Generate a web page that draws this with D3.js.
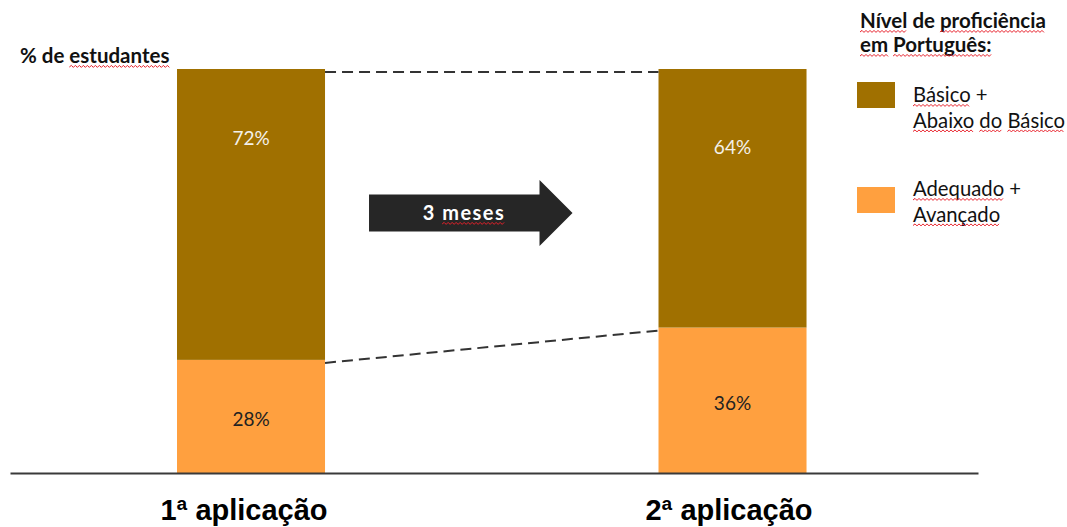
<!DOCTYPE html>
<html>
<head>
<meta charset="utf-8">
<script src="https://cdn.jsdelivr.net/npm/d3@7"></script>
<style>
  html, body { margin: 0; padding: 0; background: #fff; }
  svg { display: block; }
</style>
</head>
<body>
<svg id="chart" width="1067" height="527"></svg>
<script>
// Proficiency levels before and after three months
const applications = ["1ª aplicação", "2ª aplicação"];
const lowerLevel = [72, 64];     // Básico + Abaixo do Básico
const upperLevel = [28, 36];     // Adequado + Avançado
const seriesNames = [["Básico +", "Abaixo do Básico"], ["Adequado +", "Avançado"]];
const percentSign = "%";
const colors = { lower: "#A07000", upper: "#FFA03F" };

const svg = d3.select("#chart");
const calibri = "Lato, 'Open Sans', sans-serif";
const arial = "'Liberation Sans', Arial, sans-serif";

const x = d3.scaleBand().domain(applications).range([10, 978])
  .paddingInner(0.6926).paddingOuter(0.3515).align(0.4934);
const y = d3.scaleLinear().domain([0, 100]).range([473, 69]);

const data = applications.map((a, i) => ({ app: a, upper: upperLevel[i], lower: lowerLevel[i] }));
const stack = d3.stack().keys(["upper", "lower"])(data);

// stacked bars
svg.append("g").selectAll("g").data(stack).join("g")
  .attr("fill", d => colors[d.key])
  .selectAll("rect").data(d => d).join("rect")
  .attr("x", d => x(d.data.app))
  .attr("width", x.bandwidth())
  .attr("y", d => y(d[1]))
  .attr("height", d => y(d[0]) - y(d[1]));

// connecting dashed lines
const dash = svg.append("g").attr("stroke", "#333").attr("stroke-width", 2)
  .attr("stroke-dasharray", "11,6").attr("fill", "none");
const xr = x(applications[0]) + x.bandwidth();
const xl = x(applications[1]);
dash.append("line").attr("x1", xr).attr("x2", xl).attr("y1", y(100) + 3).attr("y2", y(100) + 3);
dash.append("line").attr("x1", xr).attr("x2", xl)
  .attr("y1", y(upperLevel[0]) + 3).attr("y2", y(upperLevel[1]) + 3);

// value labels
const lowerLabelAt = [82.8, 80.6];
svg.append("g").selectAll("text").data(data).join("text")
  .attr("x", d => x(d.app) + x.bandwidth() / 2)
  .attr("y", (d, i) => y(lowerLabelAt[i]) + 7)
  .attr("text-anchor", "middle").attr("font-family", calibri).attr("font-size", 19)
  .attr("fill", "#F4F1EA")
  .text(d => d.lower + percentSign);
svg.append("g").selectAll("text").data(data).join("text")
  .attr("x", d => x(d.app) + x.bandwidth() / 2)
  .attr("y", d => y(d.upper / 2) + 10)
  .attr("text-anchor", "middle").attr("font-family", calibri).attr("font-size", 19)
  .attr("fill", "#222")
  .text(d => d.upper + percentSign);

// baseline axis with category labels
const axis = svg.append("g").attr("transform", `translate(0,${y(0)})`)
  .call(d3.axisBottom(x).tickSize(0).tickPadding(40));
axis.select(".domain").attr("stroke", "#3a3a3a").attr("stroke-width", 2.2);
axis.selectAll(".tick text")
  .attr("font-family", arial).attr("font-size", 29).attr("font-weight", "bold")
  .attr("fill", "#000").attr("dy", "0.25em")
  .attr("dx", (d, i) => i === 0 ? -7 : -3.5);

// spell-check style wavy underline below a word range of a text element
function squiggle(textSel, words) {
  const node = textSel.node();
  const str = node.textContent;
  const base = +textSel.attr("y");
  words.forEach(w => {
    const i = str.indexOf(w);
    if (i < 0) return;
    const x0 = node.getStartPositionOfChar(i).x;
    const x1 = node.getEndPositionOfChar(i + w.length - 1).x;
    const yy = base + 4;
    let p = `M${x0},${yy}`;
    let up = true;
    for (let xx = x0 + 2; xx <= x1; xx += 2) {
      p += `L${xx},${up ? yy - 1.6 : yy + 0.4}`;
      up = !up;
    }
    svg.append("path").attr("d", p).attr("fill", "none")
      .attr("stroke", "#E8202A").attr("stroke-width", 1);
  });
}

// y-axis caption
const cap = svg.append("text").attr("x", 20).attr("y", 63)
  .attr("font-family", calibri).attr("font-size", 20.5).attr("font-weight", "bold")
  .attr("fill", "#111").text("% de estudantes");
squiggle(cap, ["estudantes"]);

// arrow between the bars
const ax0 = xr + 44, ax1 = xl - 86, ah = 33, ayc = 213;
const arrow = d3.path();
arrow.moveTo(ax0, ayc - 18.5);
arrow.lineTo(ax1 - ah, ayc - 18.5);
arrow.lineTo(ax1 - ah, ayc - 33);
arrow.lineTo(ax1, ayc);
arrow.lineTo(ax1 - ah, ayc + 33);
arrow.lineTo(ax1 - ah, ayc + 18.5);
arrow.lineTo(ax0, ayc + 18.5);
arrow.closePath();
svg.append("path").attr("d", arrow.toString()).attr("fill", "#262626");
const arrowText = svg.append("text").attr("x", 464).attr("y", ayc + 7)
  .attr("text-anchor", "middle").attr("font-family", calibri).attr("font-size", 20)
  .attr("font-weight", "bold").attr("letter-spacing", 1.5).attr("fill", "#fff").text("3 meses");
squiggle(arrowText, ["meses"]);

// legend
const lg = svg.append("g");
const t1 = lg.append("text").attr("x", 860).attr("y", 28)
  .attr("font-family", calibri).attr("font-size", 20.5).attr("font-weight", "bold")
  .attr("fill", "#111").text("Nível de proficiência");
squiggle(t1, ["Nível", "proficiência"]);
const t2 = lg.append("text").attr("x", 860).attr("y", 52)
  .attr("font-family", calibri).attr("font-size", 20.5).attr("font-weight", "bold")
  .attr("fill", "#111").text("em Português:");
squiggle(t2, ["em", "Português:"]);

const legendItems = [
  { color: colors.lower, lines: seriesNames[0], top: 82, text: 102 },
  { color: colors.upper, lines: seriesNames[1], top: 187, text: 196 }
];
legendItems.forEach(item => {
  lg.append("rect").attr("x", 857).attr("y", item.top).attr("width", 38).attr("height", 26)
    .attr("fill", item.color);
  item.lines.forEach((line, j) => {
    const t = lg.append("text").attr("x", 913).attr("y", item.text + j * 25.5)
      .attr("font-family", calibri).attr("font-size", 20.3).attr("fill", "#111").text(line);
    const words = line.split(" ").filter(w => w !== "+");
    squiggle(t, words);
  });
});
</script>
</body>
</html>
